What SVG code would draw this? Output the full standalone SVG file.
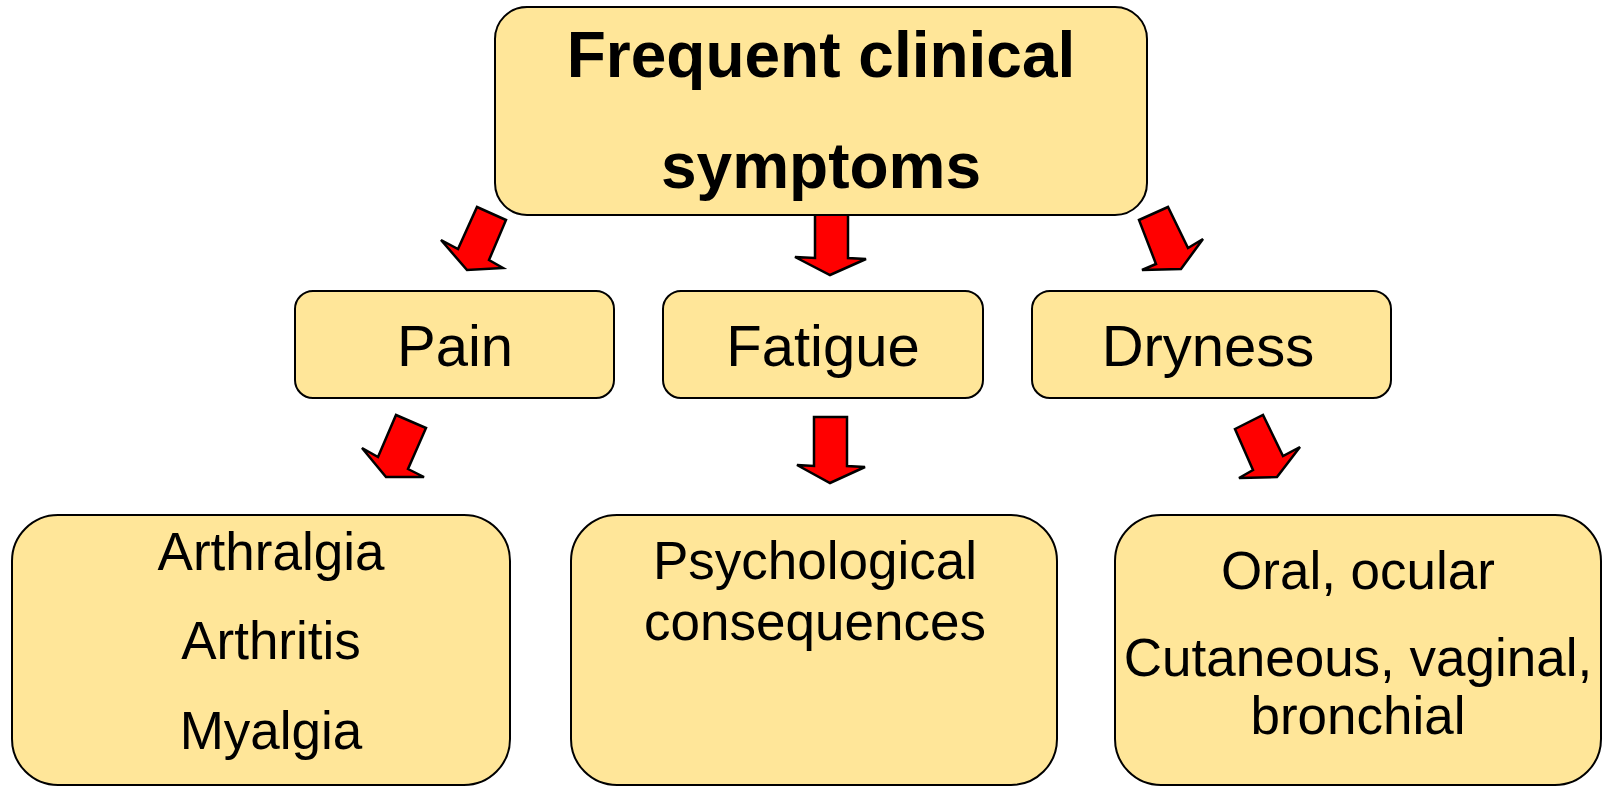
<svg xmlns="http://www.w3.org/2000/svg" width="1606" height="787" viewBox="0 0 1606 787">
<style>
.box{fill:#FFE699;stroke:#000;stroke-width:2}
.arr{fill:#FF0000;stroke:#000;stroke-width:2.5;stroke-linejoin:miter}
text{font-family:"Liberation Sans",Arial,sans-serif;fill:#000;text-anchor:middle}
.t{font-size:64px;font-weight:bold}
.m{font-size:58px}
.s{font-size:53px}
</style>
<rect width="1606" height="787" fill="#fff"/>
<g id="connectors">
<polygon class="arr" points="477,207 506,220 489,260 503,268 467,270 441,240 458,249"/>
<polygon class="arr" points="815,210 848,210 848,258 866,259 830,275 795,257 815,258"/>
<polygon class="arr" points="1139,220 1168,207 1188,248 1203,239 1181,269 1142,270 1156,264"/>
<polygon class="arr" points="396,415 426,428 408,469 424,477 386,477 362,448 378,457"/>
<polygon class="arr" points="814,417 847,417 847,466 865,467 830,483 797,465 814,466"/>
<polygon class="arr" points="1235,429 1263,415 1283,456 1300,447 1277,477 1239,478 1253,470"/>
</g>
<g id="top">
<rect class="box" x="495" y="7" width="652" height="208" rx="32"/>
<text class="t" x="821" y="77">Frequent clinical</text>
<text class="t" x="821" y="188">symptoms</text>
</g>
<g id="pain">
<rect class="box" x="295" y="291" width="319" height="107" rx="18"/>
<text class="m" x="455" y="366">Pain</text>
</g>
<g id="fatigue">
<rect class="box" x="663" y="291" width="320" height="107" rx="18"/>
<text class="m" x="823" y="366">Fatigue</text>
</g>
<g id="dryness">
<rect class="box" x="1032" y="291" width="359" height="107" rx="18"/>
<text class="m" x="1208" y="366">Dryness</text>
</g>
<g id="pain-detail">
<rect class="box" x="12" y="515" width="498" height="270" rx="46"/>
<text class="s" x="271" y="570">Arthralgia</text>
<text class="s" x="271" y="659">Arthritis</text>
<text class="s" x="271" y="749">Myalgia</text>
</g>
<g id="fatigue-detail">
<rect class="box" x="571" y="515" width="486" height="270" rx="46"/>
<text class="s" x="815" y="579">Psychological</text>
<text class="s" x="815" y="640">consequences</text>
</g>
<g id="dryness-detail">
<rect class="box" x="1115" y="515" width="486" height="270" rx="46"/>
<text class="s" x="1358" y="589">Oral, ocular</text>
<text class="s" x="1358" y="676">Cutaneous, vaginal,</text>
<text class="s" x="1358" y="734">bronchial</text>
</g>
</svg>
